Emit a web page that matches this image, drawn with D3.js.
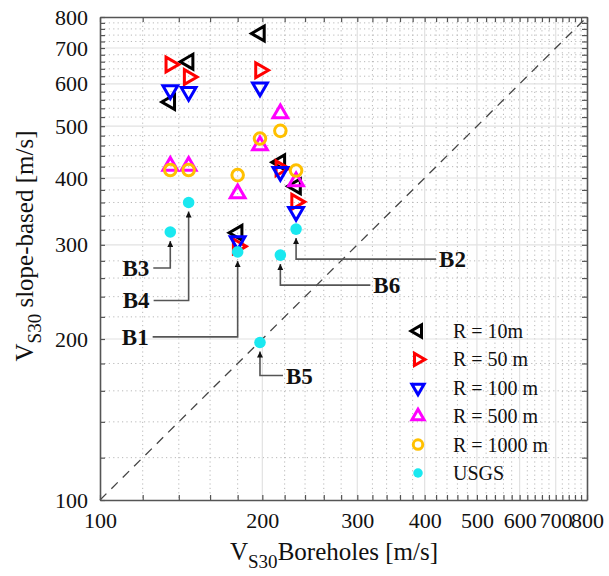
<!DOCTYPE html>
<html>
<head>
<meta charset="utf-8">
<script src="https://cdn.jsdelivr.net/npm/d3@7"></script>
<style>
    body { margin: 0; background: #fff; }
    text { font-family: 'Liberation Serif', 'DejaVu Serif', serif; fill: #111; }
</style>
</head>
<body>
<svg id="chart" width="609" height="576"></svg>
<script>
// boreholes, in left-to-right order
const BOREHOLES = ['B3', 'B4', 'B1', 'B5', 'B6', 'B2'];
const VS30_BOREHOLE = [135, 146, 180, 198, 216, 231];

// slope-based Vs30 for each search radius
const R10 = [555, 660, 316, 745, 428, 386];
const R50 = [652, 618, 298, 636, 417, 361];
const R100 = [584, 580, 305, 591, 411, 346];
const R500 = [421, 421, 374, 460, 528, 394];
const R1000 = [414, 414, 405, 474, 490, 413];
const USGS = [317, 360, 291, 197, 287, 321];

const SERIES_NAMES = ['R = 10m', 'R = 50 m', 'R = 100 m', 'R = 500 m', 'R = 1000 m', 'USGS'];
const TICK_VALUES = [100, 200, 300, 400, 500, 600, 700, 800];
const TICK_LABELS = ['100', '200', '300', '400', '500', '600', '700', '800'];

const SERIES = [
    {name: SERIES_NAMES[0], values: R10, color: '#000000', shape: 'left'},
    {name: SERIES_NAMES[1], values: R50, color: '#ff0000', shape: 'right'},
    {name: SERIES_NAMES[2], values: R100, color: '#0000ff', shape: 'down'},
    {name: SERIES_NAMES[3], values: R500, color: '#ff00ff', shape: 'up'},
    {name: SERIES_NAMES[4], values: R1000, color: '#ffc000', shape: 'circle'},
    {name: SERIES_NAMES[5], values: USGS, color: '#1ae8f0', shape: 'dot'}
];

// leader line offsets (px) from each USGS point to its label
const ANNOT_DX = [-17, -35, -85, 23, 90, 140];
const ANNOT_DY = [36, 98, 85, 33, 30, 30];

const CHART = {
    width: 609,
    height: 576,
    margin: {left: 100, right: 22, top: 17, bottom: 76}
};
const drawWidth = CHART.width - CHART.margin.left - CHART.margin.right;
const drawHeight = CHART.height - CHART.margin.top - CHART.margin.bottom;

const svg = d3.select('#chart');
const g = svg.append('g')
    .attr('transform', `translate(${CHART.margin.left},${CHART.margin.top})`);

const xScale = d3.scaleLog().domain([100, 800]).range([0, drawWidth]);
const yScale = d3.scaleLog().domain([100, 800]).range([drawHeight, 0]);

const minorTicks = d3.range(120, 800, 20).filter((v) => v % 100 !== 0);
const majorInner = TICK_VALUES.filter((v) => v > 100 && v < 800);

// grid
const grid = g.append('g');
grid.selectAll('.mx').data(minorTicks).enter().append('line')
    .attr('x1', (d) => xScale(d)).attr('x2', (d) => xScale(d))
    .attr('y1', 0).attr('y2', drawHeight)
    .attr('stroke', '#b8b8b8').attr('stroke-width', 1).attr('stroke-dasharray', '1.2,3.2');
grid.selectAll('.my').data(minorTicks).enter().append('line')
    .attr('y1', (d) => yScale(d)).attr('y2', (d) => yScale(d))
    .attr('x1', 0).attr('x2', drawWidth)
    .attr('stroke', '#b8b8b8').attr('stroke-width', 1).attr('stroke-dasharray', '1.2,3.2');
grid.selectAll('.Mx').data(majorInner).enter().append('line')
    .attr('x1', (d) => xScale(d)).attr('x2', (d) => xScale(d))
    .attr('y1', 0).attr('y2', drawHeight)
    .attr('stroke', '#e2e2e2').attr('stroke-width', 1.2);
grid.selectAll('.My').data(majorInner).enter().append('line')
    .attr('y1', (d) => yScale(d)).attr('y2', (d) => yScale(d))
    .attr('x1', 0).attr('x2', drawWidth)
    .attr('stroke', '#e2e2e2').attr('stroke-width', 1.2);

// 1:1 line
g.append('line')
    .attr('x1', xScale(100)).attr('y1', yScale(100))
    .attr('x2', xScale(800)).attr('y2', yScale(800))
    .attr('stroke', '#444').attr('stroke-width', 1.3).attr('stroke-dasharray', '9,7');

// axes, ticks pointing inward on all four sides
const allTicks = TICK_VALUES.concat(minorTicks);
const fmt = (d) => {
    const i = TICK_VALUES.indexOf(d);
    return i >= 0 ? TICK_LABELS[i] : '';
};
const axes = [
    {axis: d3.axisBottom(xScale), tr: `translate(0,${drawHeight})`, labels: true},
    {axis: d3.axisTop(xScale), tr: 'translate(0,0)', labels: false},
    {axis: d3.axisLeft(yScale), tr: 'translate(0,0)', labels: true},
    {axis: d3.axisRight(yScale), tr: `translate(${drawWidth},0)`, labels: false}
];
axes.forEach((a) => {
    const ax = g.append('g').attr('transform', a.tr)
        .call(a.axis.tickValues(allTicks).tickFormat(a.labels ? fmt : () => '')
            .tickSizeInner(-5).tickSizeOuter(0).tickPadding(12));
    ax.select('.domain').attr('stroke', '#555').attr('stroke-width', 1.6);
    ax.selectAll('.tick line').attr('stroke', '#555').attr('stroke-width', 1.2);
    ax.selectAll('.tick text')
        .style('font-family', "'Liberation Serif', serif")
        .style('font-size', '22px').attr('fill', '#111');
});

// marker shapes
const triPath = (r, rot) => {
    const pts = [0, 1, 2].map((k) => {
        const a = (rot + k * 120) * Math.PI / 180;
        return [r * Math.sin(a), -r * Math.cos(a)];
    });
    return 'M' + pts.map((p) => p.join(',')).join('L') + 'Z';
};
const ROT = {up: 0, right: 90, down: 180, left: 270};

function drawMarker(sel, shape, color, size) {
    if (shape === 'circle') {
        sel.append('circle').attr('r', size * 0.68)
            .attr('fill', 'none').attr('stroke', color).attr('stroke-width', 3);
    } else if (shape === 'dot') {
        sel.append('circle').attr('r', size * 0.68)
            .attr('fill', color);
    } else {
        sel.append('path').attr('d', triPath(size, ROT[shape]))
            .attr('fill', 'none').attr('stroke', color)
            .attr('stroke-width', 3).attr('stroke-linejoin', 'miter');
    }
}

// data points
SERIES.forEach((s) => {
    const pts = g.append('g').selectAll('g').data(s.values).enter().append('g')
        .attr('transform', (d, i) => `translate(${xScale(VS30_BOREHOLE[i])},${yScale(d)})`);
    pts.each(function () { drawMarker(d3.select(this), s.shape, s.color, 8.5); });
});

// annotations
svg.append('defs').append('marker')
    .attr('id', 'arrow').attr('viewBox', '0 0 10 10')
    .attr('refX', 10).attr('refY', 5)
    .attr('markerWidth', 7).attr('markerHeight', 6)
    .attr('markerUnits', 'userSpaceOnUse')
    .attr('orient', 'auto')
    .append('path').attr('d', 'M0,0L10,5L0,10Z').attr('fill', '#111');

const ann = g.append('g');
BOREHOLES.forEach((b, i) => {
    const px = xScale(VS30_BOREHOLE[i]);
    const py = yScale(USGS[i]);
    const ly = py + ANNOT_DY[i];
    const lx = px + ANNOT_DX[i];
    ann.append('path')
        .attr('d', `M${lx},${ly}H${px}V${py + 9}`)
        .attr('fill', 'none').attr('stroke', '#555').attr('stroke-width', 1.6)
        .attr('marker-end', 'url(#arrow)');
    const left = ANNOT_DX[i] < 0;
    ann.append('text')
        .attr('x', left ? lx - 4 : lx + 3)
        .attr('y', ly + 8)
        .attr('text-anchor', left ? 'end' : 'start')
        .style('font-size', '23px').style('font-weight', 'bold')
        .text(b);
});

// legend
const legend = svg.append('g').attr('transform', 'translate(418,331)');
SERIES.forEach((s, i) => {
    const row = legend.append('g').attr('transform', `translate(0,${i * 28.4})`);
    drawMarker(row, s.shape, s.color, 7);
    row.append('text').attr('x', 35).attr('y', 7)
        .style('font-size', '20px').text(s.name);
});

// axis titles
const xt = svg.append('text')
    .attr('x', 334).attr('y', 560)
    .attr('text-anchor', 'middle')
    .style('font-size', '25px');
xt.append('tspan').text('V');
xt.append('tspan').attr('dy', 8).style('font-size', '19px').text('S30');
xt.append('tspan').attr('dy', -8).text('Boreholes [m/s]');

const yt = svg.append('text')
    .attr('transform', 'translate(33,246) rotate(-90)')
    .attr('text-anchor', 'middle')
    .style('font-size', '25px');
yt.append('tspan').text('V');
yt.append('tspan').attr('dy', 8).style('font-size', '19px').text('S30');
yt.append('tspan').attr('dy', -8).text(' slope-based [m/s]');
</script>
</body>
</html>
